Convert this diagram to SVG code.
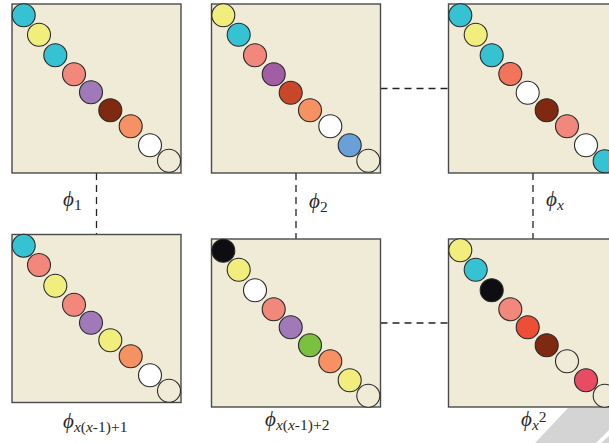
<svg xmlns="http://www.w3.org/2000/svg" width="609" height="443" viewBox="0 0 609 443">
<style>
.box{fill:#f0ebd7;stroke:#4a4a4a;stroke-width:1.4}
.c{stroke:#2a2a2a;stroke-width:1.1}
.dash{stroke:#222;stroke-width:1.3;stroke-dasharray:7 5;fill:none}
.lbl{font-family:"Liberation Serif",serif;font-size:21px;fill:#2a2a2a}
.sub{font-size:15.5px}
.cy{fill:#35c3d4}.ye{fill:#f2ee7e}.sa{fill:#f2877c}.pu{fill:#a07ab8}.pu2{fill:#a25ea5}
.db{fill:#7e2910}.or{fill:#f69163}.wh{fill:#ffffff}.cr{fill:#f0ebd7}.rb{fill:#c8462a}
.bl{fill:#6aa0d8}.to{fill:#f2745a}.gr{fill:#7cc03f}.ro{fill:#ef4e36}.pk{fill:#e84c64}.bk{fill:#0e0e12}
</style>
<defs>
<clipPath id="page"><rect x="0" y="0" width="609" height="443"/></clipPath>
</defs>
<g id="connectors">
<line class="dash" x1="96.5" y1="173" x2="96.5" y2="234"/>
<line class="dash" x1="296" y1="173" x2="296" y2="239"/>
<line class="dash" x1="533" y1="173" x2="533" y2="239"/>
<line class="dash" x1="380.5" y1="88.5" x2="448" y2="88.5"/>
<line class="dash" x1="380.5" y1="323" x2="448" y2="323"/>
</g>
<g id="n1">
<rect class="box" x="12" y="4" width="169" height="169"/>
<circle class="c cy" cx="23.7" cy="15.3" r="11.5"/>
<circle class="c ye" cx="39" cy="34.7" r="11.5"/>
<circle class="c cy" cx="55.3" cy="55.3" r="11.5"/>
<circle class="c sa" cx="74" cy="74.3" r="11.5"/>
<circle class="c pu" cx="91" cy="92.3" r="11.5"/>
<circle class="c db" cx="110.3" cy="110.3" r="11.5"/>
<circle class="c or" cx="130.7" cy="126.3" r="11.5"/>
<circle class="c wh" cx="150" cy="145.3" r="11.5"/>
<circle class="c cr" cx="169" cy="160.7" r="11.5"/>
<text class="lbl" x="63" y="206"><tspan font-style="italic">ϕ</tspan><tspan class="sub" dy="4">1</tspan></text>
</g>
<g id="n2">
<rect class="box" x="211.5" y="4" width="169" height="169"/>
<circle class="c ye" cx="223.3" cy="15.3" r="11.5"/>
<circle class="c cy" cx="238.7" cy="34.7" r="11.5"/>
<circle class="c sa" cx="255" cy="55.3" r="11.5"/>
<circle class="c pu2" cx="273.7" cy="74.3" r="11.5"/>
<circle class="c rb" cx="290.7" cy="92.7" r="11.5"/>
<circle class="c or" cx="310" cy="110.3" r="11.5"/>
<circle class="c wh" cx="330.3" cy="126.3" r="11.5"/>
<circle class="c bl" cx="349.7" cy="145.3" r="11.5"/>
<circle class="c cr" cx="368.3" cy="160.7" r="11.5"/>
<text class="lbl" x="309" y="208"><tspan font-style="italic">ϕ</tspan><tspan class="sub" dy="4">2</tspan></text>
</g>
<g id="n3" clip-path="url(#page)">
<rect class="box" x="448.5" y="4" width="169" height="169"/>
<circle class="c cy" cx="460.3" cy="15.3" r="11.5"/>
<circle class="c ye" cx="475.7" cy="34.7" r="11.5"/>
<circle class="c cy" cx="491.7" cy="55.3" r="11.5"/>
<circle class="c to" cx="510.3" cy="74" r="11.5"/>
<circle class="c wh" cx="527.7" cy="92.7" r="11.5"/>
<circle class="c db" cx="546.7" cy="110.3" r="11.5"/>
<circle class="c sa" cx="567" cy="126.3" r="11.5"/>
<circle class="c wh" cx="586" cy="145.3" r="11.5"/>
<circle class="c cy" cx="604.7" cy="161.3" r="11.5"/>
<text class="lbl" x="546" y="206"><tspan font-style="italic">ϕ</tspan><tspan class="sub" font-style="italic" dy="4">x</tspan></text>
</g>
<g id="n4">
<rect class="box" x="12" y="234.5" width="169" height="168"/>
<circle class="c cy" cx="23.7" cy="245.7" r="11.5"/>
<circle class="c sa" cx="39" cy="265" r="11.5"/>
<circle class="c ye" cx="55.3" cy="285.7" r="11.5"/>
<circle class="c sa" cx="74" cy="304.7" r="11.5"/>
<circle class="c pu" cx="91" cy="322.7" r="11.5"/>
<circle class="c ye" cx="110.3" cy="340.3" r="11.5"/>
<circle class="c or" cx="130.7" cy="356.3" r="11.5"/>
<circle class="c wh" cx="150" cy="375.3" r="11.5"/>
<circle class="c cr" cx="169" cy="390.7" r="11.5"/>
<text class="lbl" x="63" y="428"><tspan font-style="italic">ϕ</tspan><tspan class="sub" dy="4"><tspan font-style="italic">x</tspan>(<tspan font-style="italic">x</tspan>-1)+1</tspan></text>
</g>
<g id="n5">
<rect class="box" x="211.5" y="239" width="169" height="168"/>
<circle class="c bk" cx="223.3" cy="250.7" r="11.5"/>
<circle class="c ye" cx="238.7" cy="269.7" r="11.5"/>
<circle class="c wh" cx="255" cy="290.3" r="11.5"/>
<circle class="c sa" cx="273.7" cy="309.3" r="11.5"/>
<circle class="c pu" cx="290.7" cy="327.3" r="11.5"/>
<circle class="c gr" cx="310" cy="345.3" r="11.5"/>
<circle class="c or" cx="330.3" cy="361.3" r="11.5"/>
<circle class="c ye" cx="349.7" cy="380.3" r="11.5"/>
<circle class="c cr" cx="368.3" cy="395.7" r="11.5"/>
<text class="lbl" x="265" y="426"><tspan font-style="italic">ϕ</tspan><tspan class="sub" dy="4"><tspan font-style="italic">x</tspan>(<tspan font-style="italic">x</tspan>-1)+2</tspan></text>
</g>
<g id="n6" clip-path="url(#page)">
<rect class="box" x="448.5" y="239" width="169" height="168"/>
<circle class="c ye" cx="460.3" cy="250.3" r="11.5"/>
<circle class="c cy" cx="475.7" cy="269.7" r="11.5"/>
<circle class="c bk" cx="491.7" cy="290.3" r="11.5"/>
<circle class="c sa" cx="510.3" cy="309.3" r="11.5"/>
<circle class="c ro" cx="527.7" cy="327.3" r="11.5"/>
<circle class="c db" cx="546.7" cy="345.3" r="11.5"/>
<circle class="c cr" cx="567" cy="361.3" r="11.5"/>
<circle class="c pk" cx="586" cy="380.3" r="11.5"/>
<circle class="c cr" cx="604.7" cy="395.7" r="11.5"/>
</g>
<g id="shadow">
<polygon points="568,408 609,408 609,430 596,443 535,443" fill="#d4d4d4"/>
<polygon points="601,443 609,436 609,443" fill="#d4d4d4"/>
</g>
<text class="lbl" x="521" y="426"><tspan font-style="italic">ϕ</tspan><tspan class="sub" font-style="italic" dy="4">x</tspan><tspan class="sub" dy="-8">2</tspan></text>
</svg>
